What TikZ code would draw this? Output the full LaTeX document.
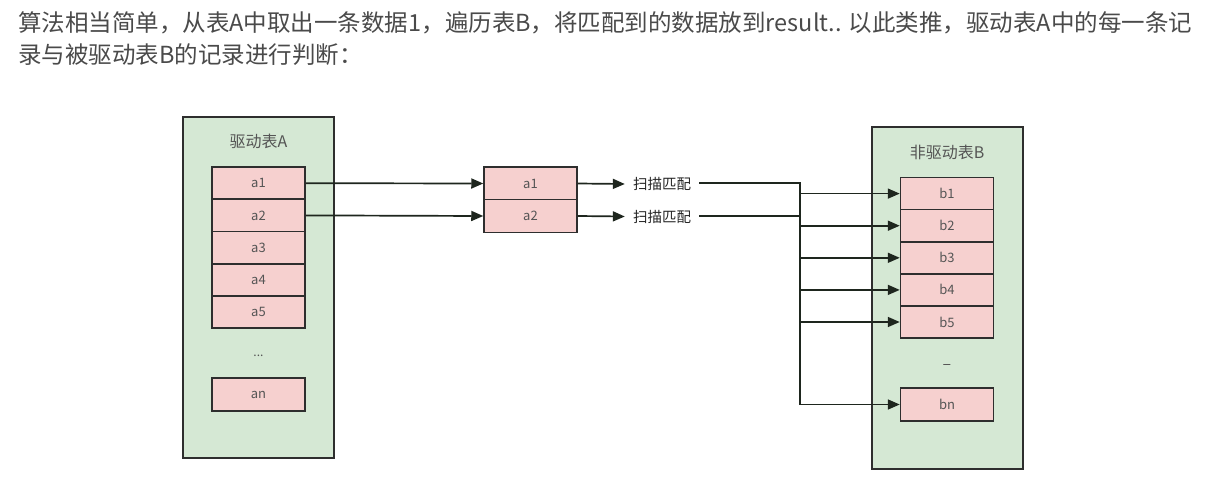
\documentclass[tikz,border=0pt]{standalone}
\usepackage{fontspec}
\newfontfamily\cjk{Noto Sans CJK SC}
\usetikzlibrary{arrows.meta}
\definecolor{tblgreen}{HTML}{D5E8D4}
\definecolor{cellpink}{HTML}{F6D0CF}
\definecolor{edge}{HTML}{2E2E2E}
\definecolor{txt}{HTML}{555555}
\definecolor{para}{HTML}{4A4A4A}
\definecolor{wire}{HTML}{1E261E}
\begin{document}
\begin{tikzpicture}[x=1pt,y=-1pt,
  table/.style={draw=edge,line width=1.8pt,fill=tblgreen},
  cell/.style={draw=edge,line width=1.5pt,fill=cellpink,minimum width=93pt,minimum height=32pt,inner sep=0pt,
    font=\cjk\fontsize{13}{15}\selectfont,text=txt},
  title/.style={font=\cjk\fontsize{16}{18}\selectfont,text=txt,inner sep=0pt},
  scan/.style={font=\cjk\fontsize{14.5}{16}\selectfont,text=black!85,inner xsep=8pt,inner ysep=3pt},
  wirestyle/.style={draw=wire,line width=1.7pt},
  arr/.style={wirestyle,-{Triangle[length=12pt,width=10pt]}},
  paratext/.style={font=\cjk\fontsize{23.5}{28}\selectfont,text=para,inner sep=0pt,anchor=base west}]
\useasboundingbox (0,0) rectangle (1221,487);
\fill[white] (0,0) rectangle (1221,487);

% explanatory paragraph
\node[paratext] (p1) at (18,31.5) {算法相当简单，从表A中取出一条数据1，遍历表B，将匹配到的数据放到result.. 以此类推，驱动表A中的每一条记};
\node[paratext] (p2) at (18,63.5) {录与被驱动表B的记录进行判断：};

% driving table A
\path[table] (183,117) rectangle (334,458);
\node[title] (ta) at (258.5,141) {驱动表A};
\foreach \i in {1,...,5}{
  \node[cell] (a\i) at (258.5,{151+32.2*\i}) {a\i};
}
\node[title,font=\cjk\fontsize{12}{14}\selectfont] (adots) at (258.5,356) {...};
\node[cell,minimum height=33pt] (an) at (258.5,394.5) {an};

% rows taken from A
\node[cell,minimum height=33pt] (m1) at (530.5,183.5) {a1};
\node[cell,minimum height=33pt] (m2) at (530.5,216) {a2};
\node[scan] (s1) at (662,184) {扫描匹配};
\node[scan] (s2) at (662,216.5) {扫描匹配};

% driven table B
\path[table] (872,127) rectangle (1023,469);
\node[title] (tb) at (947,152) {非驱动表B};
\foreach \i in {1,...,5}{
  \node[cell] (b\i) at (947,{161.5+32.1*\i}) {b\i};
}
\node[title] (bdots) at (947,367) {–};
\node[cell,minimum height=33pt] (bn) at (947,404.5) {bn};

% connectors
\draw[arr] (a1.east) -- (m1.west);
\draw[arr] (a2.east) -- (m2.west);
\draw[arr] (m1.east) -- (s1.west);
\draw[arr] (m2.east) -- (s2.west);

\coordinate (j1) at (800,183);
\coordinate (j2) at (800,216);
\coordinate (jn) at (800,404.5);
\draw[wirestyle] (s1.east |- j1) -- (j1) -- (jn);
\draw[wirestyle] (s2.east |- j2) -- (j2);
\foreach \i in {1,...,5}{
  \draw[arr] (j1 |- b\i.west) -- (b\i.west);
}
\draw[arr] (jn) -- (bn.west);
\end{tikzpicture}
\end{document}
